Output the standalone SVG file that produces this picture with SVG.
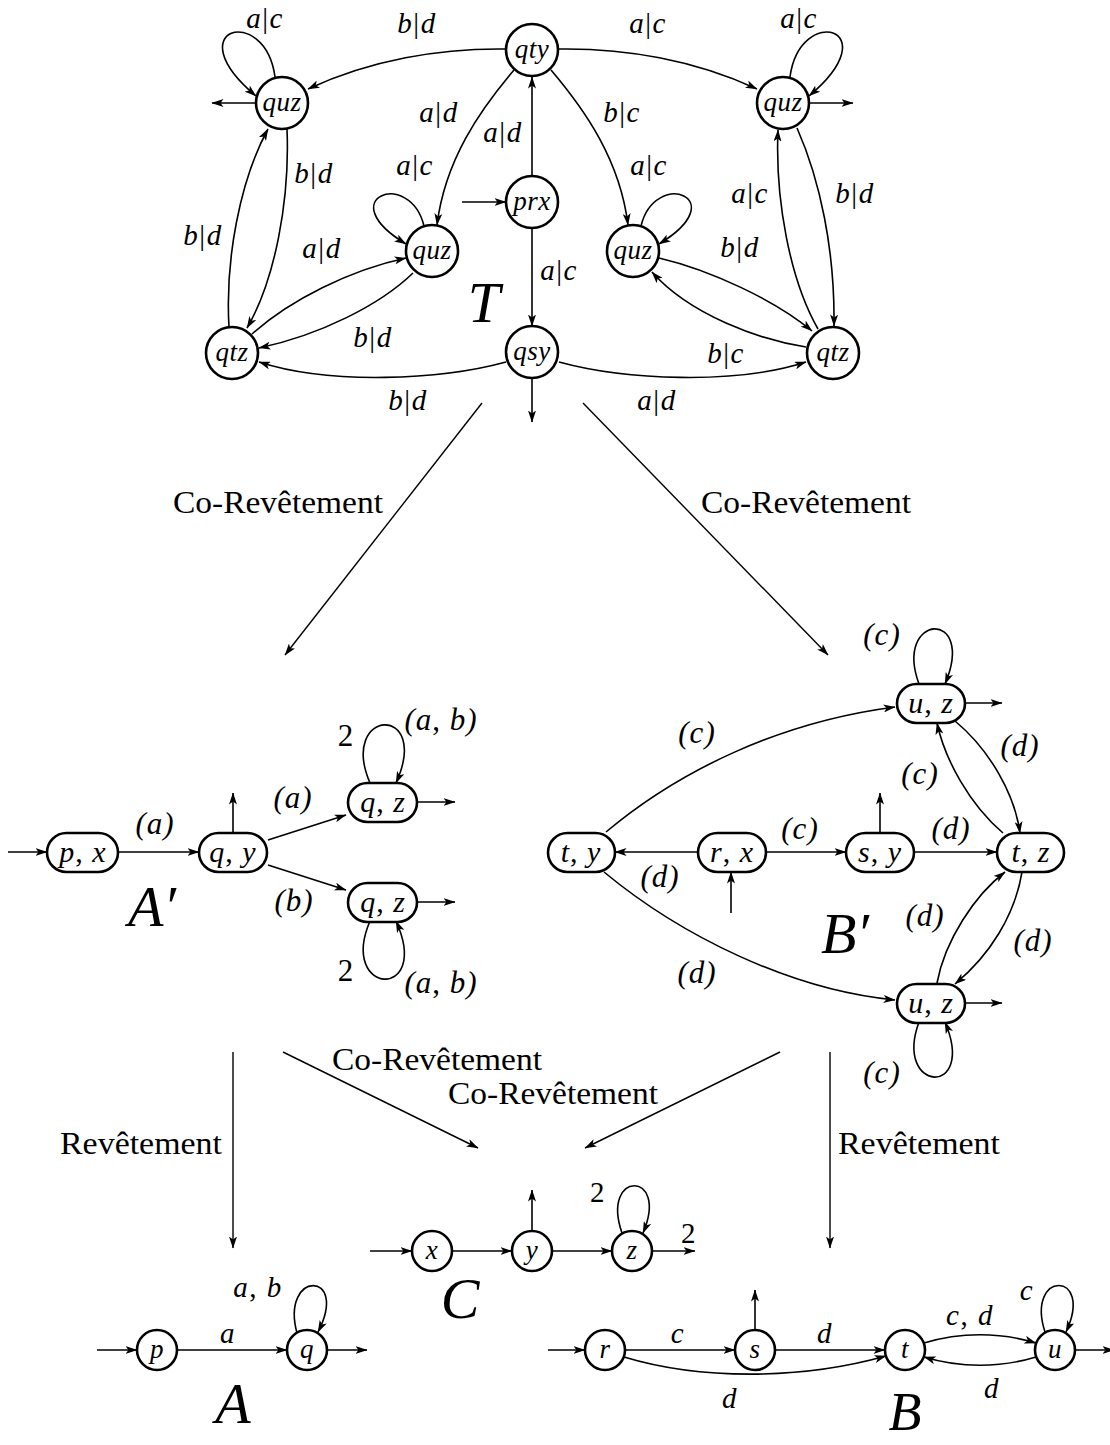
<svg xmlns="http://www.w3.org/2000/svg" width="1110" height="1445" viewBox="0 0 1110 1445">
<defs>
<marker id="ah" viewBox="0 0 12 8" refX="11.5" refY="4" markerWidth="12" markerHeight="8" orient="auto" markerUnits="userSpaceOnUse"><path d="M0,0 L12,4 L0,8 L3,4 z" fill="#000"/></marker>
<style>
.n{fill:#fff;stroke:#000;stroke-width:2.6}
.e{fill:none;stroke:#000;stroke-width:1.6;marker-end:url(#ah)}
.l{fill:none;stroke:#000;stroke-width:1.4;marker-end:url(#ah)}
text{font-family:"Liberation Serif","DejaVu Serif",serif;fill:#000}
.m{font-style:italic;font-size:29px;text-anchor:middle;letter-spacing:1.5px}
.p{font-style:italic;font-size:31px;text-anchor:middle;letter-spacing:1px}
.nl{font-style:italic;font-size:27px;text-anchor:middle;letter-spacing:0.5px}
.bl{font-style:italic;font-size:30px;text-anchor:middle;letter-spacing:1px}
.u{font-style:normal}
.t{font-size:31px}
.cal{font-style:italic;font-size:58px;text-anchor:middle}
</style>
</defs>
<rect width="1110" height="1445" fill="#fff"/>

<!-- ===== T ===== -->
<g id="edges-T">
<path class="e" d="M506,49 C440,48 370,60 308,89"/>
<path class="e" d="M275,77 C265,3 175,28 256,96"/>
<path class="e" d="M256,103 L212,103"/>
<path class="e" d="M514,70 C480,110 445,160 437,225"/>
<path class="e" d="M532,176 L532,77"/>
<path class="e" d="M462,202 L506,202"/>
<path class="e" d="M532,228 L532,326"/>
<path class="e" d="M532,378 L532,422"/>
<path class="e" d="M559,49 C625,48 695,60 757,89"/>
<path class="e" d="M790,77 C800,3 890,28 809,96"/>
<path class="e" d="M809,103 L853,103"/>
<path class="e" d="M551,70 C585,110 620,160 628,225"/>
<path class="e" d="M424,226 C410,168 330,198 406,244"/>
<path class="e" d="M641,226 C655,168 735,198 659,244"/>
<path class="e" d="M287,129 C290,200 275,280 247,328"/>
<path class="e" d="M229,327 C225,260 240,180 268,129"/>
<path class="e" d="M252,334 C290,300 350,270 406,258"/>
<path class="e" d="M413,273 C380,305 320,335 259,348"/>
<path class="e" d="M506,362 C440,380 330,385 259,362"/>
<path class="e" d="M559,362 C625,380 735,385 806,362"/>
<path class="e" d="M659,258 C710,270 775,300 812,331"/>
<path class="e" d="M806,347 C760,340 690,315 652,272"/>
<path class="e" d="M797,128 C820,180 835,250 834,326"/>
<path class="e" d="M818,329 C790,280 775,200 778,130"/>
</g>
<g id="labels-T">
<text class="m" x="265" y="28">a<tspan class="u">|</tspan>c</text>
<text class="m" x="417" y="33">b<tspan class="u">|</tspan>d</text>
<text class="m" x="648" y="33">a<tspan class="u">|</tspan>c</text>
<text class="m" x="799" y="28">a<tspan class="u">|</tspan>c</text>
<text class="m" x="439" y="122">a<tspan class="u">|</tspan>d</text>
<text class="m" x="503" y="142">a<tspan class="u">|</tspan>d</text>
<text class="m" x="314" y="183">b<tspan class="u">|</tspan>d</text>
<text class="m" x="415" y="175">a<tspan class="u">|</tspan>c</text>
<text class="m" x="622" y="122">b<tspan class="u">|</tspan>c</text>
<text class="m" x="649" y="175">a<tspan class="u">|</tspan>c</text>
<text class="m" x="750" y="203">a<tspan class="u">|</tspan>c</text>
<text class="m" x="855" y="203">b<tspan class="u">|</tspan>d</text>
<text class="m" x="203" y="245">b<tspan class="u">|</tspan>d</text>
<text class="m" x="322" y="258">a<tspan class="u">|</tspan>d</text>
<text class="m" x="373" y="347">b<tspan class="u">|</tspan>d</text>
<text class="m" x="408" y="410">b<tspan class="u">|</tspan>d</text>
<text class="m" x="559" y="280">a<tspan class="u">|</tspan>c</text>
<text class="m" x="740" y="257">b<tspan class="u">|</tspan>d</text>
<text class="m" x="726" y="363">b<tspan class="u">|</tspan>c</text>
<text class="m" x="657" y="410">a<tspan class="u">|</tspan>d</text>
<text class="cal" x="484" y="322">T</text>
</g>
<g id="T-qty"><circle class="n" cx="532" cy="50" r="26"/><text class="nl" x="532" y="58">qty</text></g>
<g id="T-prx"><circle class="n" cx="532" cy="202" r="26"/><text class="nl" x="532" y="210">prx</text></g>
<g id="T-qsy"><circle class="n" cx="532" cy="352" r="26"/><text class="nl" x="532" y="360">qsy</text></g>
<g id="T-quz1"><circle class="n" cx="282" cy="103" r="26"/><text class="nl" x="282" y="111">quz</text></g>
<g id="T-quz2"><circle class="n" cx="783" cy="103" r="26"/><text class="nl" x="783" y="111">quz</text></g>
<g id="T-quz3"><circle class="n" cx="432" cy="251" r="26"/><text class="nl" x="432" y="259">quz</text></g>
<g id="T-quz4"><circle class="n" cx="633" cy="251" r="26"/><text class="nl" x="633" y="259">quz</text></g>
<g id="T-qtz1"><circle class="n" cx="232" cy="353" r="26"/><text class="nl" x="232" y="361">qtz</text></g>
<g id="T-qtz2"><circle class="n" cx="833" cy="353" r="26"/><text class="nl" x="833" y="361">qtz</text></g>

<!-- ===== morphism arrows ===== -->
<g id="morphisms">
<path class="l" d="M482,403 L285,655"/>
<path class="l" d="M583,403 L828,655"/>
<path class="l" d="M233,1052 L233,1248"/>
<path class="l" d="M283,1052 L478,1148"/>
<path class="l" d="M780,1052 L585,1148"/>
<path class="l" d="M830,1052 L830,1248"/>
<text class="t" x="173" y="513" textLength="210" lengthAdjust="spacingAndGlyphs">Co-Revêtement</text>
<text class="t" x="701" y="513" textLength="210" lengthAdjust="spacingAndGlyphs">Co-Revêtement</text>
<text class="t" x="332" y="1070" textLength="210" lengthAdjust="spacingAndGlyphs">Co-Revêtement</text>
<text class="t" x="448" y="1104" textLength="210" lengthAdjust="spacingAndGlyphs">Co-Revêtement</text>
<text class="t" x="60" y="1154" textLength="162" lengthAdjust="spacingAndGlyphs">Revêtement</text>
<text class="t" x="838" y="1154" textLength="162" lengthAdjust="spacingAndGlyphs">Revêtement</text>
</g>

<!-- ===== A' ===== -->
<g id="edges-A1">
<path class="e" d="M8,852 L47,852"/>
<path class="e" d="M118,852 L199,852"/>
<path class="e" d="M233,833 L233,793"/>
<path class="e" d="M268,840 L346,815"/>
<path class="e" d="M268,865 L346,890"/>
<path class="e" d="M417,802 L455,802"/>
<path class="e" d="M417,902 L455,902"/>
<path class="e" d="M370,783 C338,708 432,703 396,783"/>
<path class="e" d="M370,921 C338,996 432,1001 396,921"/>
<text class="p" x="155" y="834">(a)</text>
<text class="p" x="293" y="808">(a)</text>
<text class="p" x="294" y="911">(b)</text>
<text class="p u" x="346" y="746">2</text>
<text class="p" x="441" y="730">(a<tspan class="u">,</tspan> b)</text>
<text class="p u" x="346" y="981">2</text>
<text class="p" x="441" y="993">(a<tspan class="u">,</tspan> b)</text>
<text class="cal" x="152" y="926">A′</text>
</g>
<g id="A1-px"><rect class="n" x="47" y="833" width="71" height="39" rx="19.5"/><text class="bl" x="83" y="862">p<tspan class="u">,</tspan> x</text></g>
<g id="A1-qy"><rect class="n" x="199" y="833" width="68" height="39" rx="19.5"/><text class="bl" x="233" y="862">q<tspan class="u">,</tspan> y</text></g>
<g id="A1-qz1"><rect class="n" x="348" y="783" width="69" height="39" rx="19.5"/><text class="bl" x="383" y="812">q<tspan class="u">,</tspan> z</text></g>
<g id="A1-qz2"><rect class="n" x="348" y="883" width="69" height="39" rx="19.5"/><text class="bl" x="383" y="912">q<tspan class="u">,</tspan> z</text></g>

<!-- ===== B' ===== -->
<g id="edges-B1">
<path class="e" d="M698,852 L615,852"/>
<path class="e" d="M766,852 L846,852"/>
<path class="e" d="M914,852 L997,852"/>
<path class="e" d="M880,833 L880,793"/>
<path class="e" d="M731,913 L731,872"/>
<path class="e" d="M606,832 C680,770 780,722 895,707"/>
<path class="e" d="M604,872 C680,935 790,990 895,1000"/>
<path class="e" d="M955,721 C990,750 1015,795 1020,833"/>
<path class="e" d="M1003,833 C970,805 945,760 937,723"/>
<path class="e" d="M937,983 C945,940 975,895 1005,872"/>
<path class="e" d="M1022,872 C1015,915 990,955 955,984"/>
<path class="e" d="M965,703 L1002,703"/>
<path class="e" d="M965,1003 L1002,1003"/>
<path class="e" d="M919,684 C893,613 977,608 945,684"/>
<path class="e" d="M919,1022 C893,1093 977,1098 945,1022"/>
<text class="p" x="882" y="645">(c)</text>
<text class="p" x="697" y="743">(c)</text>
<text class="p" x="1020" y="756">(d)</text>
<text class="p" x="920" y="784">(c)</text>
<text class="p" x="800" y="839">(c)</text>
<text class="p" x="951" y="839">(d)</text>
<text class="p" x="660" y="887">(d)</text>
<text class="p" x="925" y="926">(d)</text>
<text class="p" x="1033" y="951">(d)</text>
<text class="p" x="697" y="983">(d)</text>
<text class="p" x="882" y="1083">(c)</text>
<text class="cal" x="845" y="953">B′</text>
</g>
<g id="B1-uz1"><rect class="n" x="897" y="684" width="68" height="39" rx="19.5"/><text class="bl" x="931" y="713">u<tspan class="u">,</tspan> z</text></g>
<g id="B1-ty"><rect class="n" x="548" y="833" width="67" height="39" rx="19.5"/><text class="bl" x="581" y="862">t<tspan class="u">,</tspan> y</text></g>
<g id="B1-rx"><rect class="n" x="698" y="833" width="68" height="39" rx="19.5"/><text class="bl" x="732" y="862">r<tspan class="u">,</tspan> x</text></g>
<g id="B1-sy"><rect class="n" x="846" y="833" width="68" height="39" rx="19.5"/><text class="bl" x="880" y="862">s<tspan class="u">,</tspan> y</text></g>
<g id="B1-tz"><rect class="n" x="997" y="833" width="67" height="39" rx="19.5"/><text class="bl" x="1031" y="862">t<tspan class="u">,</tspan> z</text></g>
<g id="B1-uz2"><rect class="n" x="897" y="984" width="68" height="39" rx="19.5"/><text class="bl" x="931" y="1013">u<tspan class="u">,</tspan> z</text></g>

<!-- ===== C ===== -->
<g id="edges-C">
<path class="e" d="M370,1251 L412,1251"/>
<path class="e" d="M452,1251 L512,1251"/>
<path class="e" d="M552,1251 L612,1251"/>
<path class="e" d="M532,1231 L532,1190"/>
<path class="e" d="M652,1251 L695,1251"/>
<path class="e" d="M622,1233 C600,1170 670,1170 643,1233"/>
<text class="m u" x="598" y="1202">2</text>
<text class="m u" x="689" y="1243">2</text>
<text class="cal" x="460" y="1318">C</text>
</g>
<g id="C-x"><circle class="n" cx="432" cy="1251" r="20"/><text class="nl" x="432" y="1259">x</text></g>
<g id="C-y"><circle class="n" cx="532" cy="1251" r="20"/><text class="nl" x="532" y="1259">y</text></g>
<g id="C-z"><circle class="n" cx="632" cy="1251" r="20"/><text class="nl" x="632" y="1259">z</text></g>

<!-- ===== A ===== -->
<g id="edges-A">
<path class="e" d="M97,1350 L137,1350"/>
<path class="e" d="M177,1350 L287,1350"/>
<path class="e" d="M327,1350 L367,1350"/>
<path class="e" d="M297,1333 C280,1270 350,1270 318,1332"/>
<text class="m" x="228" y="1343">a</text>
<text class="m" x="258" y="1297">a<tspan class="u">,</tspan> b</text>
<text class="cal" x="233" y="1423">A</text>
</g>
<g id="A-p"><circle class="n" cx="157" cy="1350" r="20"/><text class="nl" x="157" y="1358">p</text></g>
<g id="A-q"><circle class="n" cx="307" cy="1350" r="20"/><text class="nl" x="307" y="1358">q</text></g>

<!-- ===== B ===== -->
<g id="edges-B">
<path class="e" d="M548,1350 L585,1350"/>
<path class="e" d="M625,1350 L735,1350"/>
<path class="e" d="M755,1330 L755,1290"/>
<path class="e" d="M775,1350 L885,1350"/>
<path class="e" d="M624,1357 C700,1380 800,1380 886,1356"/>
<path class="e" d="M924,1343 C960,1332 1000,1332 1036,1343"/>
<path class="e" d="M1036,1357 C1000,1368 960,1368 924,1357"/>
<path class="e" d="M1045,1332 C1025,1270 1095,1270 1066,1332"/>
<path class="e" d="M1075,1350 L1114,1350"/>
<text class="m" x="678" y="1343">c</text>
<text class="m" x="825" y="1343">d</text>
<text class="m" x="730" y="1408">d</text>
<text class="m" x="970" y="1325">c<tspan class="u">,</tspan> d</text>
<text class="m" x="992" y="1398">d</text>
<text class="m" x="1027" y="1300">c</text>
<text class="cal" x="905" y="1430" style="font-size:54px">B</text>
</g>
<g id="B-r"><circle class="n" cx="605" cy="1350" r="20"/><text class="nl" x="605" y="1358">r</text></g>
<g id="B-s"><circle class="n" cx="755" cy="1350" r="20"/><text class="nl" x="755" y="1358">s</text></g>
<g id="B-t"><circle class="n" cx="905" cy="1350" r="20"/><text class="nl" x="905" y="1358">t</text></g>
<g id="B-u"><circle class="n" cx="1055" cy="1350" r="20"/><text class="nl" x="1055" y="1358">u</text></g>
</svg>
